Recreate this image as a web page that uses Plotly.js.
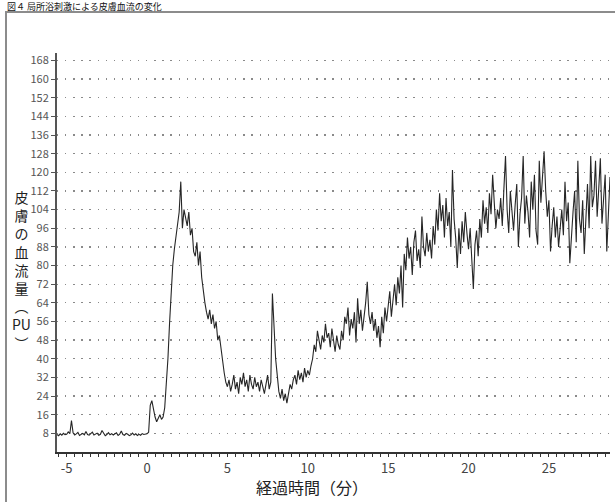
<!DOCTYPE html>
<html>
<head>
<meta charset="utf-8">
<script src="https://cdn.plot.ly/plotly-3.0.1.min.js"></script>
<style>html,body{margin:0;padding:0;background:#fff;}#chart{width:615px;height:502px;}</style>
</head>
<body>
<div id="chart"></div>
<script>
// Sampling: first sample time (min) and step (min)
const startTime = -5.6;
const stepTime = 0.1;

// Skin blood flow (PU), one value per 0.1 min from -5.6 to 28.8
const flowPre = [
  7.5, 7.0, 7.8, 7.2, 8.0, 7.4,
  7.6, 8.6, 7.9, 13.5, 8.2, 7.3, 7.8, 8.4, 7.1, 7.6,
  8.0, 7.4, 8.8, 7.5, 7.2, 7.9, 8.5, 7.3, 7.7, 8.1,
  7.2, 7.6, 9.2, 7.8, 7.0, 7.5, 8.3, 7.4, 7.9, 7.3,
  7.8, 8.2, 7.1, 7.7, 9.0, 7.5, 7.2, 8.0, 7.6, 7.0,
  7.4, 8.1, 7.3, 7.8, 7.1, 7.6, 7.2, 7.9, 7.5, 7.8
];
const flowPeak = [
  7.8, 8.5, 20, 22, 18, 15, 13, 14.5, 16, 14,
  15, 19, 28, 40, 55, 68, 80, 87, 92, 98,
  103, 116, 96, 104, 100, 97, 103, 93, 96, 86,
  84, 90, 80, 86, 75, 68, 64, 60, 57, 61,
  55, 59, 53, 56, 48, 50, 44, 39, 34, 30
];
const flowTrough = [
  28, 31, 26, 29, 33, 27, 30, 25, 32, 29,
  34, 28, 31, 26, 33, 29, 27, 32, 28, 30,
  26, 31, 28, 25, 29, 33, 27, 30, 68, 50,
  40, 33, 26, 23, 27, 22, 25, 21, 26, 29,
  27, 31, 33, 29, 35, 31, 34, 30, 36, 32
];
const flowRise = [
  35, 33, 37, 40, 46, 43, 52, 48, 44, 50,
  47, 55, 49, 51, 45, 53, 48, 43, 50, 46,
  44, 52, 48, 58, 55, 62, 50, 57, 53, 60,
  47, 66, 55, 61, 52, 58, 64, 73, 59, 55,
  60, 52, 57, 49, 54, 45, 58, 51, 62, 56,
  64, 69, 58, 66, 72, 63, 75, 68, 80, 62,
  85, 78, 92, 83, 88, 76, 90, 95, 82, 87,
  79, 101, 88, 84, 94, 86, 91, 83, 97, 89
];
const flowPlateau = [
  104, 95, 111, 99, 106, 92, 109, 97, 103, 88,
  121, 100, 92, 79, 96, 85, 99, 90, 103, 94,
  87, 96, 82, 70, 89, 95, 84, 100, 92, 108,
  98, 105, 94, 111, 102, 119, 107, 96, 104, 100,
  109, 97, 113, 127, 104, 94, 112, 101, 95, 106,
  115, 88, 102, 109, 127, 98, 110, 103, 92, 116,
  104, 119, 95, 89, 125, 107, 118, 129, 112, 101,
  108, 86, 97, 105, 92, 101, 88, 96, 104, 93,
  116, 99, 107, 81, 95, 103, 112, 90, 125, 100,
  94, 108, 85, 102, 115, 96, 127, 105, 110, 125,
  101, 113, 126, 98, 107, 119, 86, 104, 118
];

const xTickVals = [-5, 0, 5, 10, 15, 20, 25];
const yTickVals = [8,16,24,32,40,48,56,64,72,80,88,96,104,112,120,128,136,144,152,160,168];

const chartTitle = '図４ 局所浴刺激による皮膚血流の変化';
const xTitle = '経過時間（分）';
const yTitleChars = ['皮','膚','の','血','流','量','︵','PU','︶'];

const flow = [].concat(flowPre, flowPeak, flowTrough, flowRise, flowPlateau);

const trace = {
  type: 'scatter',
  mode: 'lines',
  x0: startTime,
  dx: stepTime,
  y: flow,
  line: {color: '#262626', width: 1.1},
  hoverinfo: 'skip'
};

const W = 615, H = 502;
const mL = 57, mR = 5, mT = 53, mB = 50;
const pw = W - mL - mR, ph = H - mT - mB;
const px = v => (v - mL) / pw;
const py = v => (H - mB - v) / ph;

const font = "'Noto Sans CJK JP', 'Noto Sans', sans-serif";

const layout = {
  width: W, height: H,
  margin: {l: mL, r: mR, t: mT, b: mB, pad: 0},
  paper_bgcolor: '#ffffff',
  plot_bgcolor: '#ffffff',
  showlegend: false,
  font: {family: font, color: '#444'},
  xaxis: {
    range: [-5.6, 28.8],
    tickvals: xTickVals,
    ticktext: xTickVals.map(String),
    ticks: 'outside', ticklen: 3, tickcolor: '#333', tickwidth: 1,
    minor: {dtick: 0.5, tick0: 0, ticks: 'outside', ticklen: 3, tickcolor: '#333', showgrid: false},
    showgrid: false, zeroline: false,
    showline: true, linecolor: '#333', linewidth: 2,
    tickfont: {size: 13, color: '#444', family: font},
    fixedrange: true
  },
  yaxis: {
    range: [0, 171.2],
    tickvals: yTickVals,
    ticktext: yTickVals.map(String),
    ticks: 'outside', ticklen: 4, tickcolor: '#555', tickwidth: 1,
    showgrid: true, gridcolor: '#8a8a8a', gridwidth: 1.3, griddash: '1.3px,6.8px',
    zeroline: false,
    showline: true, linecolor: '#555', linewidth: 2,
    tickfont: {size: 11, color: '#555', family: font},
    fixedrange: true
  },
  shapes: [{
    type: 'rect', xref: 'paper', yref: 'paper',
    x0: px(6), x1: px(640), y0: py(530), y1: py(12),
    line: {color: '#8c8c8c', width: 2}, fillcolor: 'rgba(0,0,0,0)', layer: 'below'
  }],
  annotations: [
    {
      text: chartTitle, xref: 'paper', yref: 'paper',
      x: px(5), y: py(6.5), xanchor: 'left', yanchor: 'middle',
      showarrow: false, font: {size: 9, color: '#111', family: font}
    },
    {
      text: yTitleChars.join('<br>'), xref: 'paper', yref: 'paper',
      x: px(21), y: py(270), xanchor: 'center', yanchor: 'middle',
      showarrow: false, align: 'center',
      font: {size: 14, color: '#222', family: font}
    },
    {
      text: xTitle, xref: 'paper', yref: 'paper',
      x: px(312), y: py(487), xanchor: 'center', yanchor: 'middle',
      showarrow: false, font: {size: 16, color: '#222', family: font}
    }
  ]
};

Plotly.newPlot('chart', [trace], layout, {staticPlot: true, displayModeBar: false});
</script>
</body>
</html>
